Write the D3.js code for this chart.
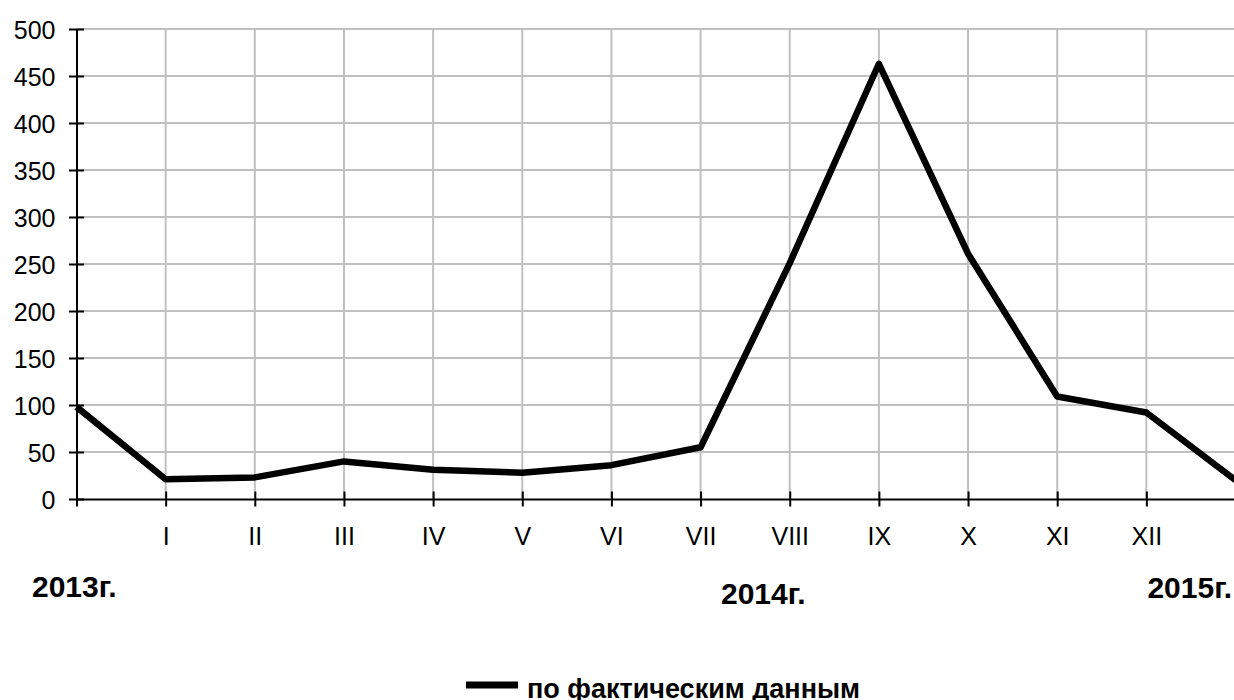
<!DOCTYPE html>
<html>
<head>
  <meta charset="UTF-8">
  <title>по фактическим данным</title>
  <script src="https://cdn.jsdelivr.net/npm/d3@7"></script>
  <style>
    body { margin: 0; background: #fff; }
    svg { display: block; font-family: "Liberation Sans", Arial, sans-serif; }
  </style>
</head>
<body>
  <div id="chart"></div>
  <script>
    // data
    var monthLabels = ["", "I", "II", "III", "IV", "V", "VI", "VII", "VIII", "IX", "X", "XI", "XII", "I"];
    var values = [98, 21, 23, 40, 31, 28, 36, 55, 251, 463, 261, 109, 92, 20];
    var yTicks = [0, 50, 100, 150, 200, 250, 300, 350, 400, 450, 500];
    var yearLabels = ["2013г.", "2014г.", "2015г."];
    var seriesName = "по фактическим данным";

    var width = 1234, height = 700;
    var x0 = 76.5, x1 = 1235.5, yTop = 29, yBottom = 499;

    var svg = d3.select('#chart')
      .append('svg')
      .attr('width', width)
      .attr('height', height);

    var x = d3.scalePoint()
      .domain(d3.range(monthLabels.length))
      .range([x0, x1]);

    var y = d3.scaleLinear()
      .domain([0, 500])
      .range([yBottom, yTop]);

    // grid
    svg.append('g')
      .selectAll('line.hgrid')
      .data(yTicks.filter(d => d > 0))
      .enter()
      .append('line')
      .attr('x1', x0).attr('x2', x1)
      .attr('y1', d => y(d)).attr('y2', d => y(d))
      .attr('stroke', '#c0c0c0')
      .attr('stroke-width', 2);

    svg.append('g')
      .selectAll('line.vgrid')
      .data(x.domain().slice(1))
      .enter()
      .append('line')
      .attr('x1', d => x(d)).attr('x2', d => x(d))
      .attr('y1', yTop).attr('y2', yBottom)
      .attr('stroke', '#c0c0c0')
      .attr('stroke-width', 2);

    // axes
    var yAxis = svg.append('g')
      .attr('transform', 'translate(' + x0 + ',0)')
      .call(d3.axisLeft(y).tickValues(yTicks).tickSizeOuter(0));
    yAxis.select('.domain').attr('stroke', '#000').attr('stroke-width', 2);
    yAxis.selectAll('.tick line').attr('x1', -7.5).attr('x2', 7.5).attr('stroke', '#000').attr('stroke-width', 2);
    yAxis.selectAll('.tick text').attr('font-size', 25).attr('fill', '#000').attr('x', -21).attr('dy', '0.36em');

    var xAxis = svg.append('g')
      .attr('transform', 'translate(0,' + yBottom + ')')
      .call(d3.axisBottom(x).tickFormat(i => monthLabels[i]).tickSizeOuter(0));
    xAxis.select('.domain').attr('stroke', '#000').attr('stroke-width', 2);
    xAxis.selectAll('.tick line').attr('y1', -7.5).attr('y2', 7.5).attr('stroke', '#000').attr('stroke-width', 2);
    xAxis.selectAll('.tick text').attr('font-size', 25).attr('fill', '#000').attr('y', 45.5).attr('dy', 0);

    // series
    var line = d3.line()
      .x((d, i) => x(i))
      .y(d => y(d));

    svg.append('path')
      .datum(values)
      .attr('d', line)
      .attr('fill', 'none')
      .attr('stroke', '#000')
      .attr('stroke-width', 6.5)
      .attr('stroke-linejoin', 'round');

    // year labels
    svg.append('text').text(yearLabels[0])
      .attr('x', 32).attr('y', 597)
      .attr('font-size', 30).attr('font-weight', 'bold');
    svg.append('text').text(yearLabels[1])
      .attr('x', 721).attr('y', 604)
      .attr('font-size', 30).attr('font-weight', 'bold');
    svg.append('text').text(yearLabels[2])
      .attr('x', 1232).attr('y', 598)
      .attr('text-anchor', 'end')
      .attr('font-size', 30).attr('font-weight', 'bold');

    // legend
    var legend = svg.append('g');
    legend.append('line')
      .attr('x1', 466).attr('x2', 518)
      .attr('y1', 685).attr('y2', 685)
      .attr('stroke', '#000').attr('stroke-width', 7);
    legend.append('text').text(seriesName)
      .attr('x', 527).attr('y', 698)
      .attr('font-size', 27).attr('font-weight', 'bold');
  </script>
</body>
</html>
